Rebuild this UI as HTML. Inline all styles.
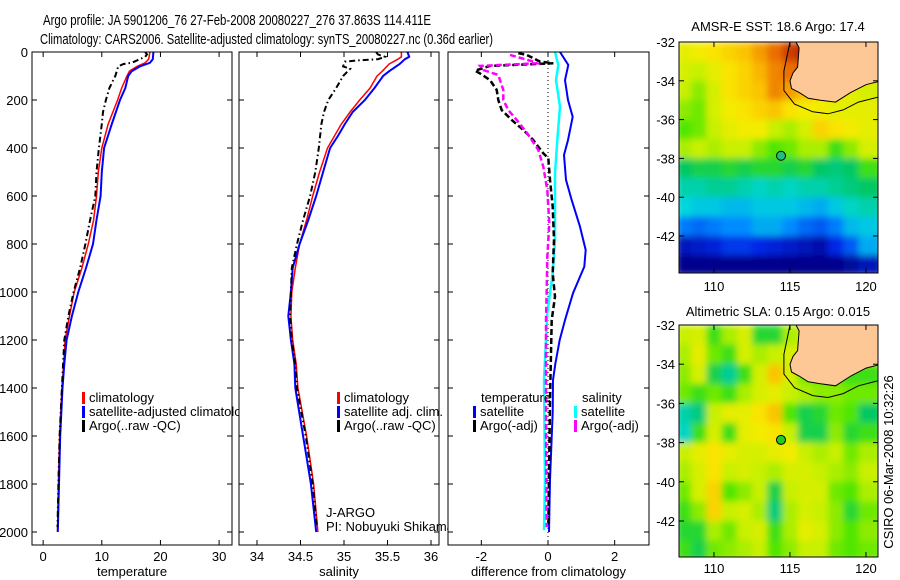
<!DOCTYPE html>
<html><head><meta charset="utf-8">
<style>
body{margin:0;background:#fff;}
svg{display:block;font-family:"Liberation Sans",sans-serif;}
text{fill:#000;}
</style></head>
<body>
<svg id="fig" width="900" height="580" viewBox="0 0 900 580" xmlns="http://www.w3.org/2000/svg">
<rect x="0" y="0" width="900" height="580" fill="#fff"/>
<text x="43" y="25" font-size="15" textLength="388" lengthAdjust="spacingAndGlyphs">Argo profile: JA 5901206_76 27-Feb-2008 20080227_276 37.863S 114.411E</text>
<text x="40" y="44" font-size="15" textLength="453" lengthAdjust="spacingAndGlyphs">Climatology: CARS2006. Satellite-adjusted climatology: synTS_20080227.nc (0.36d earlier)</text>
<defs>
<clipPath id="c1"><rect x="32" y="52" width="200" height="493"/></clipPath>
<clipPath id="c2"><rect x="239" y="52" width="200" height="493"/></clipPath>
<clipPath id="c3"><rect x="448" y="52" width="201" height="493"/></clipPath>
<clipPath id="m1"><rect x="679" y="42" width="199" height="231"/></clipPath>
<clipPath id="m2"><rect x="679" y="325" width="199" height="232"/></clipPath>
<filter id="smooth" x="0" y="0" width="1" height="1" primitiveUnits="userSpaceOnUse"><feGaussianBlur stdDeviation="3.5" edgeMode="duplicate"/></filter>
</defs>
<g id="layer"></g>
</svg>
<script>
// ---------- profile data ----------
const tDepth = [0,30,45,60,80,100,150,200,300,400,500,600,700,800,900,1000,1100,1200,1300,1400,1600,1800,2000];
const tempClim = [18.2,18.0,17.4,16.0,14.7,14.3,13.4,12.7,11.1,10.0,9.4,9.1,8.6,7.7,6.6,5.3,4.5,3.75,3.5,3.2,2.8,2.6,2.45];
const tempSat  = [18.8,18.7,18.2,16.5,15.1,14.5,14.0,13.1,11.7,10.4,10.0,9.8,9.1,8.5,7.3,6.0,4.9,4.0,3.6,3.3,2.9,2.7,2.5];
const aDepth = [0,10,20,45,50,60,100,150,200,250,300,400,500,600,700,800,900,1000,1100,1200,1300,1400,1600,1800,1980];
const tempArgo = [17.4,17.7,17.4,15.1,13.7,12.8,12.3,11.3,10.7,10.2,10.0,9.5,9.1,8.9,8.0,7.2,6.3,5.2,4.3,3.6,3.4,3.2,2.8,2.6,2.45];
const sDepth = [0,20,30,50,80,100,150,200,250,300,350,400,500,600,700,800,900,1000,1100,1200,1300,1400,1600,1800,2000];
const salClim = [35.66,35.66,35.62,35.52,35.44,35.38,35.30,35.18,35.07,34.97,34.89,34.81,34.72,34.64,34.57,34.49,34.44,34.40,34.39,34.41,34.45,34.47,34.57,34.65,34.70];
const salSat  = [35.73,35.75,35.70,35.64,35.52,35.45,35.35,35.24,35.10,35.01,34.93,34.84,34.76,34.68,34.59,34.49,34.41,34.39,34.36,34.39,34.43,34.44,34.53,34.62,34.68];
const saDepth = [0,10,20,30,35,40,60,70,100,150,200,250,300,400,500,600,700,800,900,1000,1100,1200,1300,1400,1600,1800,1980];
const salArgo = [35.37,35.39,35.47,35.39,35.16,35.01,34.99,35.07,34.99,34.91,34.82,34.77,34.74,34.71,34.67,34.61,34.53,34.46,34.40,34.39,34.38,34.40,34.44,34.46,34.56,34.64,34.69];
// differences
const dSatDepth = [0,54,117,200,270,367,429,533,617,728,825,894,1005,1117,1200,1300,1367,1500,1783,2000];
const dTempSat = [0.36,0.61,0.51,0.60,0.74,0.60,0.48,0.54,0.71,0.96,1.13,1.09,0.75,0.51,0.35,0.22,0.15,0.14,0.06,0.03];
const dSalSatDepth = [0,54,117,228,367,505,644,783,922,1088,1367,1783,1992];
const dSalSat = [0.21,0.31,0.24,0.36,0.28,0.21,0.21,0.21,0.14,-0.02,-0.12,-0.09,-0.12];
const dTArgoDepth = [5,12,40,47,58,78,89,117,158,200,242,283,325,367,422,442,533,644,783,922,1019,1117,1450,1980];
const dTempArgo = [-0.89,-0.64,-0.24,0.16,-1.74,-2.19,-2.04,-1.74,-1.54,-1.49,-1.39,-1.09,-0.74,-0.44,-0.14,0.01,0.06,0.14,0.18,0.14,0.21,0.11,0.06,0.01];
const dSArgoDepth = [12,40,47,58,75,96,117,158,200,242,283,339,408,478,575,714,853,992,1117,1533,1980];
const dSalArgo = [-1.14,-0.44,-0.34,-2.04,-1.94,-1.49,-1.44,-1.34,-1.34,-1.19,-0.94,-0.62,-0.29,-0.14,-0.02,0.04,-0.02,-0.04,-0.06,-0.06,-0.04];
const depthTicks = [0,200,400,600,800,1000,1200,1400,1600,1800,2000];
const tempTicks = [0,10,20,30];
const salTicks = [34,34.5,35,35.5,36];
const salTickLabels = ["34","34.5","35","35.5","36"];
const diffTicks = [-2,0,2];
// ---------- map data (colour index 0..1), rows lat 32.5S..43.5S, cols lon 108..120 ----------
const sstGrid = [
[.72,.74,.76,.78,.80,.84,.88,.92,.95,.90,.80,.80,.80],
[.70,.68,.72,.76,.78,.82,.86,.88,.90,.80,.78,.78,.78],
[.68,.64,.70,.76,.78,.80,.86,.84,.80,.76,.74,.72,.70],
[.64,.62,.70,.74,.76,.78,.80,.76,.74,.74,.72,.72,.72],
[.60,.62,.68,.72,.74,.74,.68,.66,.70,.78,.76,.74,.72],
[.66,.68,.66,.68,.68,.64,.60,.62,.66,.66,.58,.64,.70],
[.52,.54,.54,.56,.54,.56,.56,.54,.56,.52,.50,.52,.58],
[.46,.46,.48,.48,.46,.44,.46,.44,.46,.46,.48,.50,.52],
[.42,.40,.40,.38,.38,.40,.40,.40,.38,.36,.40,.44,.46],
[.30,.28,.30,.32,.32,.36,.36,.32,.28,.26,.30,.38,.40],
[.14,.16,.18,.22,.22,.20,.18,.16,.14,.12,.20,.26,.36],
[.08,.08,.08,.08,.08,.08,.08,.08,.08,.08,.08,.10,.14]];
const slaGrid = [
[.68,.70,.58,.66,.70,.56,.56,.66,.70,.70,.70,.70,.70],
[.66,.72,.62,.58,.70,.66,.68,.70,.70,.70,.70,.70,.70],
[.64,.70,.54,.48,.58,.70,.80,.70,.62,.62,.60,.58,.58],
[.62,.58,.62,.58,.66,.70,.72,.68,.66,.64,.64,.62,.62],
[.46,.50,.68,.72,.72,.76,.80,.60,.54,.56,.62,.60,.52],
[.44,.58,.70,.58,.72,.74,.76,.68,.54,.54,.64,.56,.58],
[.68,.72,.76,.72,.70,.70,.72,.74,.68,.66,.68,.62,.66],
[.66,.70,.76,.68,.70,.68,.66,.70,.70,.68,.66,.64,.68],
[.62,.70,.78,.60,.64,.68,.54,.68,.70,.70,.62,.60,.66],
[.58,.64,.78,.68,.70,.66,.50,.66,.70,.68,.64,.56,.62],
[.56,.56,.66,.62,.68,.70,.58,.66,.72,.70,.64,.60,.64],
[.58,.54,.62,.64,.66,.68,.60,.64,.68,.68,.62,.60,.62]];
const gridLats = [32.5,33.5,34.5,35.5,36.5,37.5,38.5,39.5,40.5,41.5,42.5,43.5];
const gridLons = [108,109,110,111,112,113,114,115,116,117,118,119,120];
const coastLon = [115.4,115.6,115.5,115.2,115.0,115.1,115.6,116.2,117.0,118.0,119.0,120.0,121.0,121.0];
const coastLat = [32,32.3,33.3,33.6,34.0,34.4,34.6,34.9,35.0,35.1,34.6,34.2,34.0,32];
const contourLon = [115.0,114.6,114.6,115.3,116.5,117.5,118.5,119.5,121.0];
const contourLat = [32,33.5,34.5,35.2,35.6,35.7,35.5,35.1,34.8];
const argoLon = 114.411, argoLat = 37.863;
const mapLatTicks = [32,34,36,38,40,42];
const mapLonTicks = [110,115,120];

const NS="http://www.w3.org/2000/svg";
const layer=document.getElementById('layer');
function mk(tag,attrs,parent){const e=document.createElementNS(NS,tag);for(const k in attrs)e.setAttribute(k,attrs[k]);(parent||layer).appendChild(e);return e;}

const yD = d => 52 + d*0.24;
const panels = [
 {x0:32,x1:232,v0:-1.9,v1:32.2,clip:'c1',ticks:tempTicks,labels:tempTicks.map(String),xlabel:'temperature',name:'temperature-panel'},
 {x0:239,x1:439,v0:33.793,v1:36.092,clip:'c2',ticks:salTicks,labels:salTickLabels,xlabel:'salinity',name:'salinity-panel'},
 {x0:448,x1:649,v0:-3.0,v1:3.03,clip:'c3',ticks:diffTicks,labels:diffTicks.map(String),xlabel:'difference from climatology',name:'difference-panel'}];
function xf(p){return v=>p.x0+(v-p.v0)/(p.v1-p.v0)*(p.x1-p.x0);}

function line(p,depths,vals,color,w,dash,name){
  const X=xf(p);
  const pts=vals.map((v,i)=>X(v).toFixed(1)+','+yD(depths[i]).toFixed(1)).join(' ');
  const el=mk('polyline',{points:pts,fill:'none',stroke:color,'stroke-width':w,'clip-path':'url(#'+p.clip+')'});
  if(dash) el.setAttribute('stroke-dasharray',dash);
  
  
}

panels.forEach((p,pi)=>{
  const g=mk('g',{});
  
  
  const bg=mk('rect',{x:p.x0,y:52,width:p.x1-p.x0,height:493,fill:'#fff'},g);
  
  
});

function legendEntry(x,y,color,label,name){
  const b=mk('rect',{x:x,y:y-10,width:3,height:12,fill:color});
  
  
  const t=mk('text',{x:x+7,y:y,'font-size':13});
  t.textContent=label;
  
  
}

// panel 1 content
line(panels[0],tDepth,tempClim,'#f00',1.5,null,'temp-climatology-line');
line(panels[0],tDepth,tempSat,'#00f',2,null,'temp-satellite-line');
line(panels[0],aDepth,tempArgo,'#000',2,'6,3,1.5,3','temp-argo-line');
legendEntry(82,402,'#f00','climatology','legend-climatology-1');
legendEntry(82,416,'#00f','satellite-adjusted climatology','legend-satellite-1');
legendEntry(82,430,'#000','Argo(..raw -QC)','legend-argo-1');
{const r=mk('rect',{x:239,y:52,width:200,height:493,fill:'#fff'});
 
 }
line(panels[1],sDepth,salClim,'#f00',1.5,null,'sal-climatology-line');
line(panels[1],sDepth,salSat,'#00f',2,null,'sal-satellite-line');
line(panels[1],saDepth,salArgo,'#000',2,'6,3,1.5,3','sal-argo-line');
legendEntry(337,402,'#f00','climatology','legend-climatology-2');
legendEntry(337,416,'#00f','satellite adj. clim.','legend-satellite-2');
legendEntry(337,430,'#000','Argo(..raw -QC)','legend-argo-2');
{const t=mk('text',{x:326,y:517,'font-size':13});t.textContent='J-ARGO';
 
 
 const t2=mk('text',{x:326,y:531,'font-size':13});t2.textContent='PI: Nobuyuki Shikama';
 
 }
{const r=mk('rect',{x:448,y:52,width:201,height:493,fill:'#fff'});
 
 }
// panel 3
{const X=xf(panels[2]);const z=mk('line',{x1:X(0),x2:X(0),y1:52,y2:545,stroke:'#000','stroke-width':1,'stroke-dasharray':'1,3'});
 
 }
line(panels[2],dSatDepth,dTempSat,'#00f',2,null,'diff-temp-satellite-line');
line(panels[2],dSalSatDepth,dSalSat,'#0ff',2.5,null,'diff-sal-satellite-line');
line(panels[2],dTArgoDepth,dTempArgo,'#000',2.5,'6,3','diff-temp-argo-line');
line(panels[2],dSArgoDepth,dSalArgo,'#f0f',2.5,'6,3','diff-sal-argo-line');
{const t=mk('text',{x:481,y:402,'font-size':13});t.textContent='temperature';
 
 
 const t2=mk('text',{x:582,y:402,'font-size':13});t2.textContent='salinity';
 
 }
legendEntry(473,416,'#00f','satellite','legend-temp-satellite');
legendEntry(473,430,'#000','Argo(-adj)','legend-temp-argo');
legendEntry(574,416,'#0ff','satellite','legend-sal-satellite');
legendEntry(574,430,'#f0f','Argo(-adj)','legend-sal-argo');

panels.forEach((p,pi)=>{
  const X=xf(p);
  const f=mk('rect',{x:p.x0,y:52,width:p.x1-p.x0,height:493,fill:'none',stroke:'#000','stroke-width':1});
  
  
  p.ticks.forEach((v,i)=>{
    const x=X(v);
    mk('line',{x1:x,x2:x,y1:545,y2:540,stroke:'#000'});
    mk('line',{x1:x,x2:x,y1:52,y2:57,stroke:'#000'});
    const t=mk('text',{x:x,y:561,'font-size':13,'text-anchor':'middle'});
    t.textContent=p.labels[i];
    
    
  });
  depthTicks.forEach(d=>{
    const y=yD(d);
    mk('line',{x1:p.x0,x2:p.x0+5,y1:y,y2:y,stroke:'#000'});
    mk('line',{x1:p.x1,x2:p.x1-5,y1:y,y2:y,stroke:'#000'});
    if(pi===0){const t=mk('text',{x:28,y:y+5,'font-size':13,'text-anchor':'end'});t.textContent=String(d);
      
      }
  });
  const xl=mk('text',{x:(p.x0+p.x1)/2,y:576,'font-size':13,'text-anchor':'middle'});
  xl.textContent=p.xlabel;
  
  
});

// ---------- maps ----------
const cmapStops=[[0,[0,0,120]],[0.08,[0,0,140]],[0.2,[0,40,230]],[0.32,[0,140,255]],[0.42,[0,215,220]],[0.52,[0,200,100]],[0.6,[80,230,0]],[0.68,[200,240,0]],[0.75,[250,235,0]],[0.82,[250,180,0]],[0.88,[235,110,0]],[0.95,[180,25,0]],[1,[130,0,0]]];
function cmap(v){
  v=Math.max(0,Math.min(1,v));
  for(let i=1;i<cmapStops.length;i++){
    const [a,ca]=cmapStops[i-1],[b,cb]=cmapStops[i];
    if(v<=b){const t=(v-a)/(b-a);return 'rgb('+ca.map((c,k)=>Math.round(c+(cb[k]-c)*t)).join(',')+')';}
  }
  return 'rgb(130,0,0)';
}
function drawMap(grid,top,bottom,yScale,clip,title,titleY,labY,name,dotColor){
  const lonX = lon=>679+(lon-107.7)*15.2;
  const latY = lat=>top+(lat-32)*yScale;
  const outer=mk('g',{'clip-path':'url(#'+clip+')'});
  
  
  const g=mk('g',{filter:'url(#smooth)'},outer);
  
  
  grid.forEach((row,ri)=>row.forEach((v,ci)=>{
    const x=lonX(gridLons[ci]-0.5), y=latY(gridLats[ri]-0.5);
    const w = ci===row.length-1 ? 24 : 15.8;
    const c=mk('rect',{x:x.toFixed(1),y:y.toFixed(1),width:w,height:(yScale+0.6).toFixed(1),fill:cmap(v)},g);
    
    
  }));
  const land=mk('polygon',{points:coastLon.map((l,i)=>lonX(l).toFixed(1)+','+latY(coastLat[i]).toFixed(1)).join(' '),fill:'#fdc896',stroke:'#000','stroke-width':1},outer);
  
  
  const ct=mk('polyline',{points:contourLon.map((l,i)=>lonX(l).toFixed(1)+','+latY(contourLat[i]).toFixed(1)).join(' '),fill:'none',stroke:'#000','stroke-width':1},outer);
  
  
  const dot=mk('circle',{cx:lonX(argoLon),cy:latY(argoLat),r:4.5,fill:dotColor,stroke:'#000','stroke-width':1},outer);
  
  
  const f=mk('rect',{x:679,y:top,width:199,height:bottom-top,fill:'none',stroke:'#000'});
  
  
  mapLatTicks.forEach(lat=>{
    const y=latY(lat);
    mk('line',{x1:679,x2:684,y1:y,y2:y,stroke:'#000'});
    mk('line',{x1:878,x2:873,y1:y,y2:y,stroke:'#000'});
    const t=mk('text',{x:675,y:y+5,'font-size':13,'text-anchor':'end'});t.textContent='-'+lat;
    
    
  });
  mapLonTicks.forEach(lon=>{
    const x=lonX(lon);
    mk('line',{x1:x,x2:x,y1:bottom,y2:bottom-5,stroke:'#000'});
    mk('line',{x1:x,x2:x,y1:top,y2:top+5,stroke:'#000'});
    const t=mk('text',{x:x,y:labY,'font-size':13,'text-anchor':'middle'});t.textContent=String(lon);
    
    
  });
  const tt=mk('text',{x:778,y:titleY,'font-size':13,'text-anchor':'middle'});tt.textContent=title;
  
  
}
drawMap(sstGrid,42,273,19.4,'m1','AMSR-E SST: 18.6 Argo: 17.4',31,291,'sst-map','#1fbf7f');
drawMap(slaGrid,325,557,19.6,'m2','Altimetric SLA: 0.15 Argo: 0.015',316,573,'sla-map','#22cc22');
{const t=mk('text',{x:0,y:0,'font-size':13,'text-anchor':'middle',transform:'translate(893,462) rotate(-90)'});
 t.textContent='CSIRO 06-Mar-2008 10:32:26';
 
 }
</script>
</body></html>
